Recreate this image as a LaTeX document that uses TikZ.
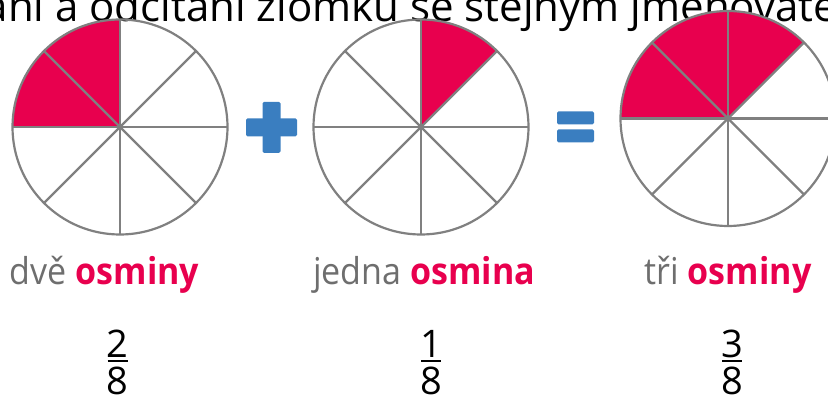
\documentclass[tikz,border=0pt]{standalone}
\usepackage{fontspec}
\setmainfont{Open Sans}
\newfontfamily\lblfont[FakeStretch=0.92]{Open Sans}
\definecolor{crimson}{RGB}{232,0,78}
\definecolor{pgray}{RGB}{128,128,128}
\definecolor{lgray}{RGB}{110,110,110}
\definecolor{pblue}{RGB}{58,126,192}
\tikzset{
  x=1pt,y=1pt,
  pieline/.style={draw=pgray,line width=2.2pt},
  piefill/.style={fill=crimson},
  opsign/.style={fill=pblue,rounded corners=1.5pt},
  lbl/.style={anchor=base,font=\lblfont\fontsize{37}{37}\selectfont,text=lgray,inner sep=0pt},
  frac/.style={anchor=base,font=\fontsize{38}{38}\selectfont,inner sep=0pt},
  fracbar/.style={draw=black,line width=2pt},
}
\newcommand{\mypie}[4]{% name, center, start angle, end angle
  \coordinate (#1) at #2;
  \fill[piefill] (#1) -- ++(#3:107.5) arc[start angle=#3,end angle=#4,radius=107.5] -- cycle;
  \foreach \a in {0,45,...,315} {\draw[pieline] (#1) -- ++(\a:107.5);}
  \draw[pieline] (#1) circle[radius=107.5];
}
\begin{document}
\begin{tikzpicture}
\useasboundingbox (0,0) rectangle (828,401);
\clip (0,0) rectangle (828,401);
\node[anchor=base west,inner sep=0pt,font=\fontsize{42}{42}\selectfont] (title) at (-84,379) {Sčítání a odčítání zlomků se stejným jmenovatelem};
\mypie{c1}{(120,274)}{90}{180}
\mypie{c2}{(421,274)}{45}{90}
\mypie{c3}{(728,282.5)}{45}{180}
% plus
\fill[opsign] (262.5,248) rectangle (280.5,299);
\fill[opsign] (246,264.5) rectangle (297,282.5);
\node[inner sep=0pt] (plus) at (271.5,273.5) {};
% equals
\fill[opsign] (557,276.5) rectangle (594,289.5);
\fill[opsign] (557,258.5) rectangle (594,271.5);
\node[inner sep=0pt] (eq) at (575.5,274) {};
% labels
\node[lbl] (l1) at (104.5,116) {dvě \textcolor{crimson}{\bfseries osminy}};
\node[lbl] (l2) at (424,116) {jedna \textcolor{crimson}{\bfseries osmina}};
\node[lbl] (l3) at (728,116) {tři \textcolor{crimson}{\bfseries osminy}};
% fractions
\node[frac] (n1) at (117.5,43) {2};
\node[frac] (d1) at (117.5,6) {8};
\draw[fracbar] (107.5,40) -- (127.5,40);
\node[frac] (n2) at (431,43) {1};
\node[frac] (d2) at (431,6) {8};
\draw[fracbar] (421,40) -- (441,40);
\node[frac] (n3) at (732,43) {3};
\node[frac] (d3) at (732,6) {8};
\draw[fracbar] (722,40) -- (742,40);
\end{tikzpicture}
\end{document}
